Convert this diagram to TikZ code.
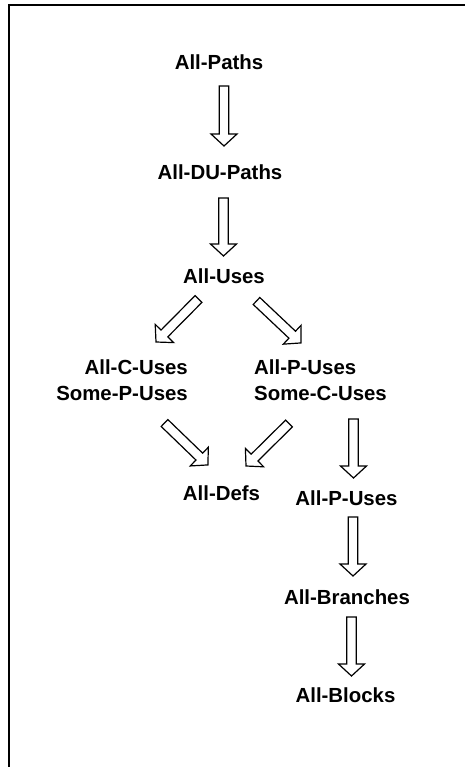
\documentclass[tikz,border=0pt]{standalone}
\usepackage{fontspec}
\setmainfont{Liberation Sans}
\usetikzlibrary{calc}

% block arrow geometry (pt)
\newcommand\bashaft{4.8}
\newcommand\bahead{13}
\newcommand\baheadlen{12}
% hollow block arrow from coordinate #1 to coordinate #2 (tip)
\newcommand\blockarrow[2]{%
  \pgfpointdiff{\pgfpointanchor{#1}{center}}{\pgfpointanchor{#2}{center}}%
  \pgfgetlastxy{\badx}{\bady}%
  \pgfmathsetmacro\baang{atan2(\bady,\badx)}%
  \pgfmathsetmacro\balen{veclen(\badx,\bady)}%
  \pgfmathsetmacro\baneck{\balen-\baheadlen}%
  \draw[hollowarrow, shift={(#1)}, rotate=\baang]
    (0,-\bashaft) -- (\baneck,-\bashaft) -- (\baneck,-\bahead) -- (\balen,0)
    -- (\baneck,\bahead) -- (\baneck,\bashaft) -- (0,\bashaft) -- cycle;}

\begin{document}
\begin{tikzpicture}[x=1pt,y=1pt,
  lbl/.style={inner sep=0pt, font=\fontsize{20.4}{26}\selectfont\bfseries},
  hollowarrow/.style={draw=black, fill=white, line width=1.2pt, line join=miter},
  frameline/.style={draw=black, line width=2pt}]
\useasboundingbox (0,0) rectangle (465,-767);

% frame (left and top edges)
\draw[frameline] (8.5,-767) -- (8.5,-5.5) -- (465,-5.5);

% criteria
\node[lbl] (paths)    at (219,-62)   {All-Paths};
\node[lbl] (dupaths)  at (220,-172)  {All-DU-Paths};
\node[lbl] (uses)     at (224,-276)  {All-Uses};
\node[lbl, align=right, anchor=east] (cuses) at (188,-380) {All-C-Uses\\Some-P-Uses};
\node[lbl, align=left, anchor=west]  (puses) at (254,-380) {All-P-Uses\\Some-C-Uses};
\node[lbl] (defs)     at (221.5,-493) {All-Defs};
\node[lbl] (allp)     at (346.5,-498) {All-P-Uses};
\node[lbl] (branches) at (347,-597)  {All-Branches};
\node[lbl] (blocks)   at (345.5,-695) {All-Blocks};

% arrow end points
\coordinate (a1s) at (224,-86);    \coordinate (a1e) at (224,-146);
\coordinate (a2s) at (223.5,-198); \coordinate (a2e) at (223.5,-256);
\coordinate (a3s) at (198.5,-299); \coordinate (a3e) at (156,-342);
\coordinate (a4s) at (256.5,-301); \coordinate (a4e) at (301,-343);
\coordinate (a5s) at (164.5,-423); \coordinate (a5e) at (208,-465);
\coordinate (a6s) at (289,-423.5); \coordinate (a6e) at (246,-466);
\coordinate (a7s) at (353.5,-419); \coordinate (a7e) at (353.5,-478);
\coordinate (a8s) at (353,-517);   \coordinate (a8e) at (353,-576);
\coordinate (a9s) at (351.5,-617); \coordinate (a9e) at (351.5,-676);

% subsumption arrows
\blockarrow{a1s}{a1e}
\blockarrow{a2s}{a2e}
\blockarrow{a3s}{a3e}
\blockarrow{a4s}{a4e}
\blockarrow{a5s}{a5e}
\blockarrow{a6s}{a6e}
\blockarrow{a7s}{a7e}
\blockarrow{a8s}{a8e}
\blockarrow{a9s}{a9e}
\end{tikzpicture}
\end{document}
